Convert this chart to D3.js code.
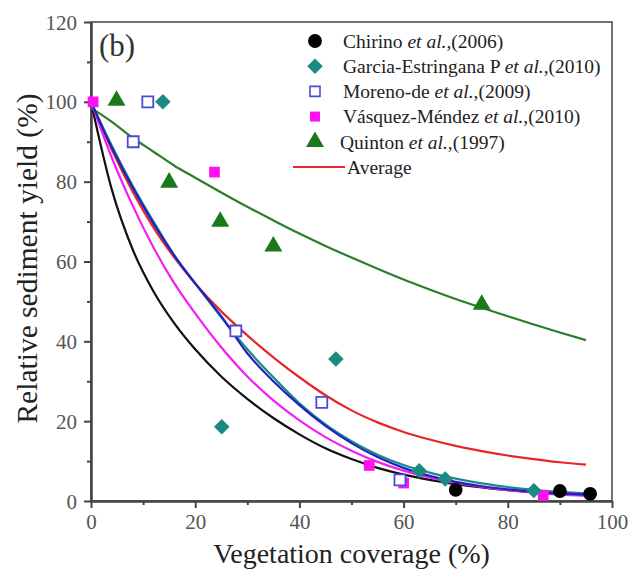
<!DOCTYPE html>
<html><head><meta charset="utf-8">
<script src="https://cdn.jsdelivr.net/npm/d3@7"></script>
<style>body{margin:0;background:#fff} svg{display:block}</style>
</head><body><svg id="c" width="632" height="572"></svg>
<script>
// ---------- data ----------
const xTicks = [0, 20, 40, 60, 80, 100];
const xMinor = [10, 30, 50, 70, 90];
const yTicks = [0, 20, 40, 60, 80, 100, 120];
const yMinor = [10, 30, 50, 70, 90, 110];

const seriesNames = ["Chirino", "Garcia-Estringana P", "Moreno-de", "Vásquez-Méndez", "Quinton", "Average"];
const seriesYears = ["(2006)", "(2010)", "(2009)", "(2010)", "(1997)"];

// observed points [coverage %, relative yield %]
const chirinoPts = [[70, 2.8], [90, 2.5], [95.8, 1.8]];
const garciaPts = [[13.8, 100], [25.1, 18.6], [47, 35.6], [63, 7.6], [68, 5.5], [85, 2.6]];
const morenoPts = [[10.9, 100], [8.1, 90], [27.8, 42.6], [44.3, 24.7], [59.3, 5.3]];
const vasquezPts = [[0.4, 100], [23.7, 82.4], [53.4, 8.9], [60, 4.5], [86.8, 1.4]];
const quintonPts = [[4.9, 100.3], [15, 79.8], [24.8, 70], [35, 63.8], [75, 49.2]];

// fitted curves
const curveX = [0, 4, 8, 12, 16, 20, 25, 30, 35, 40, 45, 50, 55, 60, 65, 70, 75, 80, 85, 90, 95];
const chirinoFit = [100, 78, 63, 52.5, 44.5, 38, 31.2, 25.6, 20.8, 16.7, 13.2, 10.5, 8.3, 6.6, 5.3, 4.2, 3.4, 2.7, 2.2, 1.8, 1.5];
const garciaFit  = [100, 89, 79, 70, 61.5, 54.5, 46, 38, 31, 24.5, 19.2, 15, 11.6, 9, 7.1, 5.6, 4.4, 3.5, 2.8, 2.3, 1.9];
const morenoFit  = [100, 88.5, 78.5, 69.5, 61.5, 54.5, 46.3, 37, 30, 24, 18.8, 14.5, 11, 8.3, 6.3, 4.8, 3.7, 2.9, 2.3, 1.9, 1.6];
const vasquezFit = [100, 86, 74, 63.5, 54.5, 47, 38.5, 31.2, 25.2, 20.2, 16, 12.6, 9.8, 7.6, 5.9, 4.5, 3.5, 2.7, 2.1, 1.6, 1.3];
const quintonFit = [98.5, 95, 91, 87.5, 84, 81, 77.3, 73.7, 70.3, 67, 63.9, 61, 58.2, 55.5, 53, 50.6, 48.4, 46.3, 44.2, 42.2, 40.3];
const averageFit = [100, 88, 77.5, 68.5, 61, 54.5, 47.5, 41.5, 36, 31, 26.5, 22.7, 19.7, 17.3, 15.4, 13.8, 12.5, 11.4, 10.5, 9.7, 9.1];

// ---------- layout ----------
const svg = d3.select("#c");
const L = 91, R = 612, T = 22, B = 501;
const x = d3.scaleLinear().domain([0, 100]).range([L, R]);
const y = d3.scaleLinear().domain([0, 120]).range([B, T]);
const axisCol = "#444";
const font = "'Liberation Serif','Times New Roman',serif";

const C = {black: "#111111", teal: "#1b8a80", blue: "#2020c8", blueMk: "#4a4ad8",
           mag: "#f020f0", magMk: "#ff10f0", green: "#2c7d2c", greenMk: "#1a7a1a", red: "#e8262a"};

// frame (top + right)
svg.append("rect").attr("x", L).attr("y", T).attr("width", R - L).attr("height", B - T)
  .attr("fill", "none").attr("stroke", axisCol).attr("stroke-width", 1.5);

// axes
function styleAxis(g) {
  g.selectAll(".domain").attr("stroke", axisCol).attr("stroke-width", 2);
  g.selectAll(".tick line").attr("stroke", axisCol).attr("stroke-width", 2);
  g.selectAll(".tick text").attr("fill", "#555").style("font-family", font).style("font-size", "21px");
}
const gx = svg.append("g").attr("transform", `translate(0,${B})`)
  .call(d3.axisBottom(x).tickValues(xTicks).tickFormat(d3.format("d")).tickSize(7).tickPadding(6).tickSizeOuter(0));
styleAxis(gx);
const gxm = svg.append("g").attr("transform", `translate(0,${B})`)
  .call(d3.axisBottom(x).tickValues(xMinor).tickFormat("").tickSize(4).tickSizeOuter(0));
styleAxis(gxm);
const gy = svg.append("g").attr("transform", `translate(${L},0)`)
  .call(d3.axisLeft(y).tickValues(yTicks).tickFormat(d3.format("d")).tickSize(7).tickPadding(7).tickSizeOuter(0));
styleAxis(gy);
gy.selectAll(".tick text").attr("dy", "0.34em");
const gym = svg.append("g").attr("transform", `translate(${L},0)`)
  .call(d3.axisLeft(y).tickValues(yMinor).tickFormat("").tickSize(4).tickSizeOuter(0));
styleAxis(gym);

// axis titles
svg.append("text").attr("x", (L + R) / 2).attr("y", 563).attr("text-anchor", "middle")
  .style("font-family", font).style("font-size", "28px").attr("fill", "#222")
  .text("Vegetation coverage (%)");
svg.append("text").attr("transform", `translate(37,${(T + B) / 2 - 3}) rotate(-90)`)
  .attr("text-anchor", "middle")
  .style("font-family", font).style("font-size", "29.5px").attr("fill", "#222")
  .text("Relative sediment yield (%)");

// panel label
svg.append("text").attr("x", 99).attr("y", 56).style("font-family", font)
  .style("font-size", "31px").attr("fill", "#333").text("(b)");

// ---------- curves ----------
const line = d3.line().x(d => x(d[0])).y(d => y(d[1])).curve(d3.curveMonotoneX);
const fits = [
  [chirinoFit, C.black], [quintonFit, C.green], [averageFit, C.red],
  [vasquezFit, C.mag], [garciaFit, C.teal], [morenoFit, C.blue]
];
fits.forEach(([vals, col]) => {
  svg.append("path").datum(curveX.map((xv, i) => [xv, vals[i]]))
    .attr("d", line).attr("fill", "none").attr("stroke", col).attr("stroke-width", 2.2);
});

// ---------- markers ----------
const sym = (type, size) => d3.symbol().type(type).size(size)();
function markers(pts, type, size, fill, stroke, sw, rot) {
  svg.append("g").selectAll("path").data(pts).join("path")
    .attr("transform", d => `translate(${x(d[0])},${y(d[1])}) rotate(${rot || 0})`)
    .attr("d", sym(type, size)).attr("fill", fill)
    .attr("stroke", stroke).attr("stroke-width", sw);
}
markers(quintonPts, d3.symbolTriangle, 140, C.greenMk, "none", 0);
markers(vasquezPts, d3.symbolSquare, 115, C.magMk, "none", 0);
markers(morenoPts, d3.symbolSquare, 120, "#fff", C.blueMk, 1.8);
markers(garciaPts, d3.symbolSquare, 120, C.teal, "none", 0, 45);
markers(chirinoPts, d3.symbolCircle, 150, "#000", "none", 0);

// ---------- legend ----------
const legY0 = 41, legStep = 25.2, legMx = 315, legTx = 343;
const legSyms = [
  [d3.symbolCircle, 150, "#000", "none", 0],
  [d3.symbolSquare, 120, C.teal, "none", 45],
  [d3.symbolSquare, 100, "#fff", C.blueMk, 0],
  [d3.symbolSquare, 100, C.magMk, "none", 0],
  [d3.symbolTriangle, 140, C.greenMk, "none", 0]
];
const leg = svg.append("g");
seriesNames.forEach((name, i) => {
  const yy = legY0 + i * legStep;
  if (i < 5) {
    const s = legSyms[i];
    leg.append("path").attr("transform", `translate(${legMx},${yy}) rotate(${s[4]})`)
      .attr("d", sym(s[0], s[1])).attr("fill", s[2]).attr("stroke", s[3]).attr("stroke-width", 1.6);
    const t = leg.append("text").attr("x", i === 4 ? legTx - 3 : legTx).attr("y", yy).attr("dy", "0.35em")
      .style("font-family", font).style("font-size", "19.5px").attr("fill", "#222");
    t.append("tspan").text(name + " ");
    t.append("tspan").style("font-style", "italic").text("et al.");
    t.append("tspan").text("," + seriesYears[i]);
  } else {
    leg.append("line").attr("x1", 293).attr("x2", 345).attr("y1", yy).attr("y2", yy)
      .attr("stroke", C.red).attr("stroke-width", 2.2);
    leg.append("text").attr("x", 347).attr("y", yy).attr("dy", "0.35em")
      .style("font-family", font).style("font-size", "19.5px").attr("fill", "#222").text(name);
  }
});
</script></body></html>
